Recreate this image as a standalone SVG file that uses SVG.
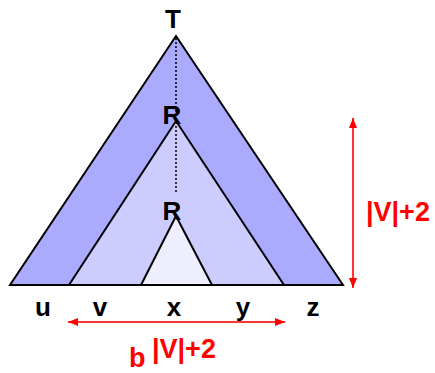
<svg xmlns="http://www.w3.org/2000/svg" width="435" height="373" viewBox="0 0 435 373">
<defs>
<style>
.tri{stroke:#000;stroke-width:2;stroke-linejoin:miter}
.lbl{font-family:"Liberation Sans",Arial,sans-serif;font-weight:bold;font-size:26px;fill:#000;text-anchor:middle}
.red{font-family:"Liberation Sans",Arial,sans-serif;font-weight:bold;font-size:27px;fill:#ff0000}
.arr{stroke:#ff3333;stroke-width:2;fill:none}
</style>
<marker id="ah" viewBox="0 0 10 8" refX="10" refY="4" markerWidth="10" markerHeight="8" markerUnits="userSpaceOnUse" orient="auto-start-reverse">
<path d="M0,0 L10,4 L0,8 Z" fill="#ff0000"/>
</marker>
</defs>
<rect width="435" height="373" fill="#fff"/>
<g id="outer"><polygon class="tri" points="176,36 10,285 343,285" fill="#aaaaff"/></g>
<g id="middle"><polygon class="tri" points="176,121 69,285 284,285" fill="#ccccff"/></g>
<g id="inner"><polygon class="tri" points="176,216 141,285 212,285" fill="#eeeeff"/></g>
<g id="connectors">
<line x1="176" y1="38" x2="176" y2="192" stroke="#000" stroke-width="1.5" stroke-dasharray="2,2"/>
<line class="arr" x1="68" y1="322" x2="285" y2="322" marker-start="url(#ah)" marker-end="url(#ah)"/>
<line class="arr" x1="353" y1="118" x2="353" y2="288" marker-start="url(#ah)" marker-end="url(#ah)"/>
</g>
<g id="labels">
<text class="lbl" x="173" y="28">T</text>
<text class="lbl" x="172" y="124">R</text>
<text class="lbl" x="172" y="220">R</text>
<text class="lbl" x="43" y="316">u</text>
<text class="lbl" x="100" y="316">v</text>
<text class="lbl" x="174" y="316">x</text>
<text class="lbl" x="243" y="316">y</text>
<text class="lbl" x="313" y="316">z</text>
<text class="red" x="366" y="221">|V|+2</text>
<text class="red" x="129" y="367">b</text>
<text class="red" x="152" y="358">|V|+2</text>
</g>
</svg>
